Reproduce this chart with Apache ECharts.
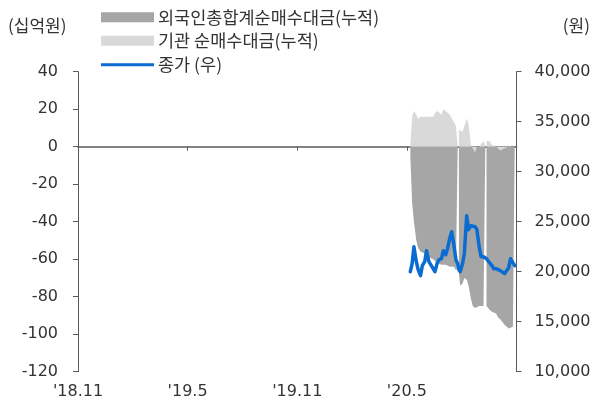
<!DOCTYPE html>
<html>
<head>
<meta charset="utf-8">
<script src="https://cdn.jsdelivr.net/npm/echarts@6/dist/echarts.min.js"></script>
<style>
  html, body { margin: 0; padding: 0; background: #fff; }
  #chart { width: 606px; height: 405px; }
</style>
</head>
<body>
<div id="chart"></div>
<script>
// Dates sampled about twice a week (plus a few single days)
const dates = [
  '2020-05-08','2020-05-11','2020-05-14','2020-05-18','2020-05-21','2020-05-25','2020-05-28',
  '2020-06-01','2020-06-04','2020-06-08','2020-06-11','2020-06-15','2020-06-18','2020-06-22','2020-06-25','2020-06-29',
  '2020-07-02','2020-07-06','2020-07-09','2020-07-13','2020-07-16','2020-07-20','2020-07-23','2020-07-26',
  '2020-07-27','2020-07-28','2020-07-30',
  '2020-08-03','2020-08-06','2020-08-10','2020-08-13','2020-08-17','2020-08-20','2020-08-24','2020-08-27','2020-08-31',
  '2020-09-03','2020-09-07','2020-09-10','2020-09-11','2020-09-12','2020-09-14','2020-09-17','2020-09-21','2020-09-24','2020-09-28',
  '2020-10-01','2020-10-05','2020-10-08','2020-10-12','2020-10-15','2020-10-19','2020-10-22','2020-10-26','2020-10-29'
];
// 외국인 총합계 순매수대금 누적 (십억원); null = no figure for that day
const foreignNet = [
  -5, -30, -40, -50, -54, -56, -57,
  -57, -58, -59, -58, -60, -61, -62, -62, -63,
  -62, -63, -64, -64, -65, -64, -66, -66,
  null, -67, -74,
  -73, -70, -71, -74, -81, -85, -86, -86, -85,
  -86, -85, -84, null, -85, -86, -87, -88, -89, -89,
  -91, -92, -93, -95, -96, -97, -96, -96, -95
];
// 기관 순매수대금 누적 (십억원)
const instNet = [
  0, 16, 19, 17, 15, 16, 15,
  16, 15, 16, 17, 16, 18, 19, 20, 17,
  20, 19, 19, 17, 15, 13, 11, 10,
  null, 9, 8,
  8, 8, 15, 12, 1, -1, -3, 0, 0,
  1, 3, 3, null, 3, 2, 3, 1, 1, 0,
  -1, -2, -2, -1, 0, 0, 0, 1, 0
];
// 종가 (원)
const closePrice = [
  20000, 20800, 22500, 21000, 20200, 19600, 20600,
  21000, 22100, 21000, 20700, 20300, 20000, 20900, 21200, 21300,
  22100, 21700, 22300, 23400, 24000, 22500, 21200, 20800,
  20300, 20200, 20000,
  20800, 21800, 25600, 24200, 24600, 24600, 24500, 24200, 22400,
  21500, 21500, 21300, 21300, 21300, 21200, 20900, 20600, 20300, 20300,
  20500, 20100, 19900, 19800, 19900, 20400, 21300, 20900, 20600
];
const xTickLabels = ["'18.11", "'19.5", "'19.11", "'20.5", ""];

const axisStart = '2018-11-01';
const axisEnd = '2020-11-01';
const dayMs = 86400000;
const dayOf = d => (Date.parse(d) - Date.parse(axisStart)) / dayMs;
const xMax = dayOf(axisEnd);
const xStep = xMax / 4;

const pairs = vals => vals.map((v, i) => [dayOf(dates[i]), v]);

const numFont = 'DejaVu Sans';
const krFont = 'Noto Sans CJK KR';
const textColor = '#333333';
const axisColor = '#595959';

const chart = echarts.init(document.getElementById('chart'), null, { renderer: 'canvas' });

const legendBase = {
  left: 101, orient: 'vertical', padding: 0, itemGap: 0,
  itemWidth: 53, itemHeight: 10, icon: 'rect',
  textStyle: { fontFamily: krFont, fontSize: 17.5, color: textColor, padding: [0, 0, 0, -1] },
  selectedMode: false
};

chart.setOption({
  animation: false,
  grid: { left: 78, right: 89.5, top: 71.7, bottom: 33.3, containLabel: false },
  legend: [
    Object.assign({}, legendBase, { top: 8.5, data: ['외국인총합계순매수대금(누적)'] }),
    Object.assign({}, legendBase, { top: 32, data: ['기관 순매수대금(누적)'] }),
    Object.assign({}, legendBase, { top: 56, itemHeight: 3, data: ['종가 (우)'] })
  ],
  graphic: [
    { type: 'text', left: 8, top: 17, style: { text: '(십억원)', font: '17px "Noto Sans CJK KR"', fill: textColor } },
    { type: 'text', right: 16, top: 17, style: { text: '(원)', font: '17px "Noto Sans CJK KR"', fill: textColor } }
  ],
  xAxis: [
    {
      type: 'value', min: 0, max: xMax, interval: xStep,
      axisLine: { show: true, onZero: true, lineStyle: { color: axisColor, width: 1.5 } },
      axisTick: { show: true, inside: false, length: 4, lineStyle: { color: axisColor, width: 1 } },
      axisLabel: { show: false },
      splitLine: { show: false }
    },
    {
      type: 'value', min: 0, max: xMax, interval: xStep, position: 'bottom',
      axisLine: { show: false, onZero: false },
      axisTick: { show: false },
      axisLabel: {
        show: true, margin: 12, showMaxLabel: false,
        fontFamily: numFont, fontSize: 16, color: textColor,
        formatter: v => xTickLabels[Math.round(v / xStep)] || ''
      },
      splitLine: { show: false }
    }
  ],
  yAxis: [
    {
      type: 'value', min: -120, max: 40, interval: 20, position: 'left',
      axisLine: { show: true, onZero: false, lineStyle: { color: axisColor, width: 1 } },
      axisTick: { show: true, inside: false, length: 5, lineStyle: { color: axisColor } },
      axisLabel: { margin: 20, fontFamily: numFont, fontSize: 16, color: textColor },
      splitLine: { show: false }
    },
    {
      type: 'value', min: 10000, max: 40000, interval: 5000, position: 'right',
      axisLine: { show: true, onZero: false, lineStyle: { color: axisColor, width: 1 } },
      axisTick: { show: true, inside: false, length: 5, lineStyle: { color: axisColor } },
      axisLabel: {
        margin: 18, fontFamily: numFont, fontSize: 16, color: textColor,
        formatter: v => v.toLocaleString('en-US')
      },
      splitLine: { show: false }
    }
  ],
  series: [
    {
      name: '외국인총합계순매수대금(누적)', type: 'line', xAxisIndex: 0, yAxisIndex: 0,
      data: pairs(foreignNet), symbol: 'none', smooth: false, connectNulls: false,
      itemStyle: { color: '#a6a6a6' },
      lineStyle: { width: 0, color: '#a6a6a6' },
      areaStyle: { color: '#a6a6a6', opacity: 1 },
      z: 2
    },
    {
      name: '기관 순매수대금(누적)', type: 'line', xAxisIndex: 0, yAxisIndex: 0,
      data: pairs(instNet), symbol: 'none', smooth: false, connectNulls: false,
      itemStyle: { color: '#d9d9d9' },
      lineStyle: { width: 0, color: '#d9d9d9' },
      areaStyle: { color: '#d9d9d9', opacity: 1 },
      z: 3
    },
    {
      name: '종가 (우)', type: 'line', xAxisIndex: 0, yAxisIndex: 1,
      data: pairs(closePrice), symbol: 'none', smooth: false,
      itemStyle: { color: '#0a6cd0' },
      lineStyle: { width: 3.5, color: '#0a6cd0', join: 'round', cap: 'round' },
      z: 4
    }
  ]
});
</script>
</body>
</html>
